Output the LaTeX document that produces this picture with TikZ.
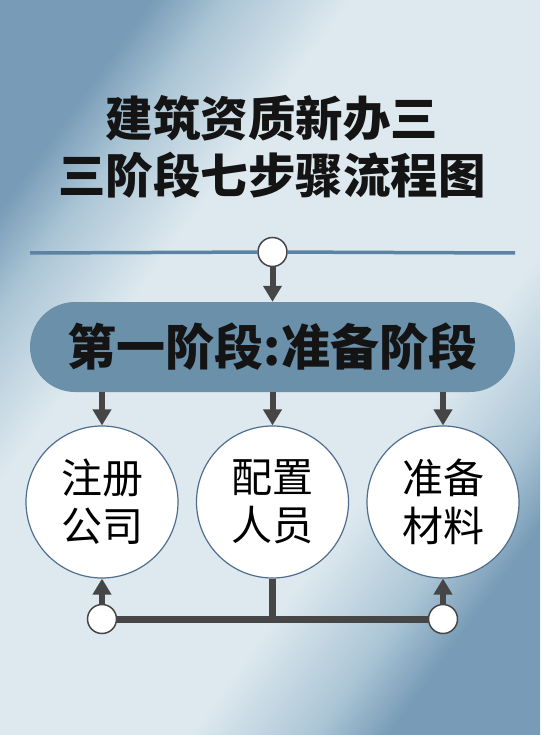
\documentclass[tikz,border=0pt]{standalone}
\usepackage{fontspec}
\usepackage{xcolor}
\usetikzlibrary{arrows.meta}
\newfontfamily\cjk{Noto Sans CJK SC}

\definecolor{bgdark}{RGB}{120,156,183}
\definecolor{bgmid}{RGB}{172,198,214}
\definecolor{bglight}{RGB}{222,233,239}
\definecolor{linkblue}{RGB}{92,132,162}
\definecolor{pillblue}{RGB}{106,144,170}
\definecolor{arrowgray}{RGB}{70,70,70}
\definecolor{ringblue}{RGB}{78,110,140}

\pgfdeclarehorizontalshading{bgshade}{100bp}{color(0bp)=(bgdark); color(25bp)=(bgdark);
    color(30bp)=(bgmid); color(38bp)=(bglight); color(62bp)=(bglight);
    color(70bp)=(bgmid); color(75bp)=(bgdark); color(100bp)=(bgdark)}

\begin{document}
\begin{tikzpicture}[x=1pt,y=-1pt,
    title/.style={font=\cjk\bfseries\fontsize{47.5}{60}\selectfont, text=black!92},
    stage/.style={fill=pillblue, rounded corners=45pt, minimum width=485pt, minimum height=90pt,
                  font=\cjk\bfseries\fontsize{49}{52}\selectfont, text=black!92},
    stepnode/.style={circle, draw=ringblue, line width=1.2pt, fill=white, minimum size=152pt,
                     inner sep=0pt, align=center, font=\cjk\fontsize{41}{48}\selectfont},
    dot/.style={circle, draw=arrowgray, line width=1.5pt, fill=white, minimum size=29pt, inner sep=0pt},
    flow/.style={arrowgray, line width=6pt, -{Triangle[width=18pt,length=16pt]}},
    bar/.style={arrowgray, line width=7pt}]

        % Background
        \shade[shading=bgshade, shading angle=-36] (0,0) rectangle (540,735);

        % Title
        \node[title] (t1) at (272,118) {建筑资质新办三};
        \node[title] (t2) at (272,175) {三阶段七步骤流程图};

        % Top rule
        \coordinate (ruleL) at (30,253);
        \coordinate (ruleR) at (515,253);
        \node[dot] (top) at (272.5,252) {};
        \draw[linkblue, line width=3.5pt] (ruleL) -- (top);
        \draw[linkblue, line width=3.5pt] (top) -- (ruleR);

        % Stage
        \node[stage] (pill) at (272.5,347) {第一阶段:准备阶段};
        \draw[flow] (top) -- (pill);

        % Steps
        \node[stepnode] (s1) at (102,502) {注册\\公司};
        \node[stepnode] (s2) at (272.5,502) {配置\\人员};
        \node[stepnode] (s3) at (443,502) {准备\\材料};

        \draw[flow] (pill.south -| s1) -- (s1);
        \draw[flow] (pill.south -| s2) -- (s2);
        \draw[flow] (pill.south -| s3) -- (s3);

        % Bottom links
        \node[dot] (b1) at (102,619) {};
        \node[dot] (b3) at (443,619) {};
        \coordinate (join) at (272.5,619);
        \draw[bar] (b1) -- (b3);
        \draw[bar] (s2) -- (join);
        \draw[flow] (b1) -- (s1);
        \draw[flow] (b3) -- (s3);
    \end{tikzpicture}
\end{document}
